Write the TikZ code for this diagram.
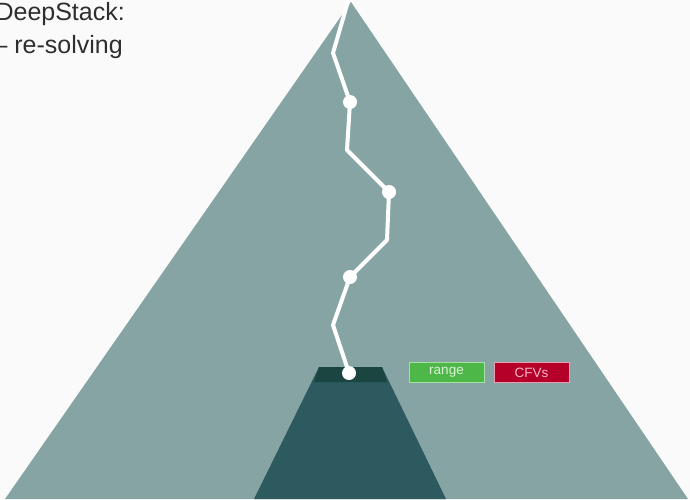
\documentclass[tikz,border=0pt]{standalone}
\usepackage{fontspec}
\setmainfont{Liberation Sans}
\definecolor{bgc}{HTML}{FAFAFA}
\definecolor{tri}{HTML}{86A4A4}
\definecolor{trap}{HTML}{2D5A5F}
\definecolor{band}{HTML}{1B4540}
\definecolor{rangefill}{HTML}{4DB848}
\definecolor{rangeedge}{HTML}{A6E0A0}
\definecolor{rangetext}{HTML}{DDF3D8}
\definecolor{cfvfill}{HTML}{B5002A}
\definecolor{cfvedge}{HTML}{E8A0B0}
\definecolor{cfvtext}{HTML}{F3B8C6}
\definecolor{txt}{HTML}{2E2E2E}
\tikzset{
  pathdot/.style={circle, fill=white, draw=none, minimum size=14pt, inner sep=0pt},
  pathline/.style={white, line width=4pt, line join=round, line cap=round},
  infobox/.style={rectangle, minimum width=75pt, minimum height=20pt, inner sep=0pt, line width=1pt, font=\fontsize{13.5}{15}\selectfont},
  title/.style={anchor=base east, inner sep=0pt, text=txt, font=\fontsize{25}{30}\selectfont}
}
\begin{document}
\begin{tikzpicture}[x=1pt, y=-1pt]
\useasboundingbox (0,0) rectangle (690,499);
\fill[bgc] (0,0) rectangle (690,499);
% big triangle
\fill[tri] (351,2) -- (688,499) -- (5,499) -- cycle;
% trapezoid (subtree)
\fill[trap] (319,367) -- (382,367) -- (446,499) -- (254,499) -- cycle;
\fill[band] (319,367) -- (382,367) -- (387,382) -- (314,382) -- cycle;
% path through the tree
\coordinate (p0) at (349,-2);
\coordinate (b1) at (333,53);
\node[pathdot] (n1) at (350,102) {};
\coordinate (b2) at (347,150);
\node[pathdot] (n2) at (389,192) {};
\coordinate (b3) at (387,240);
\node[pathdot] (n3) at (350,277) {};
\coordinate (b4) at (333,325);
\node[pathdot] (n4) at (349,373) {};
\draw[pathline] (p0) -- (b1) -- (n1.center) -- (b2) -- (n2.center) -- (b3) -- (n3.center) -- (b4) -- (n4.center);
% boxes
\node[infobox, fill=rangefill, draw=rangeedge, text=rangetext] (range) at (446.5,372.5) {range};
\node[infobox, fill=cfvfill, draw=cfvedge, text=cfvtext] (cfvs) at (531.5,372.5) {CFVs};
% title text
\node[title] (t1) at (125,20) {DeepStack:};
\node[title] (t2) at (123,53) {-- re-solving};
\end{tikzpicture}
\end{document}
